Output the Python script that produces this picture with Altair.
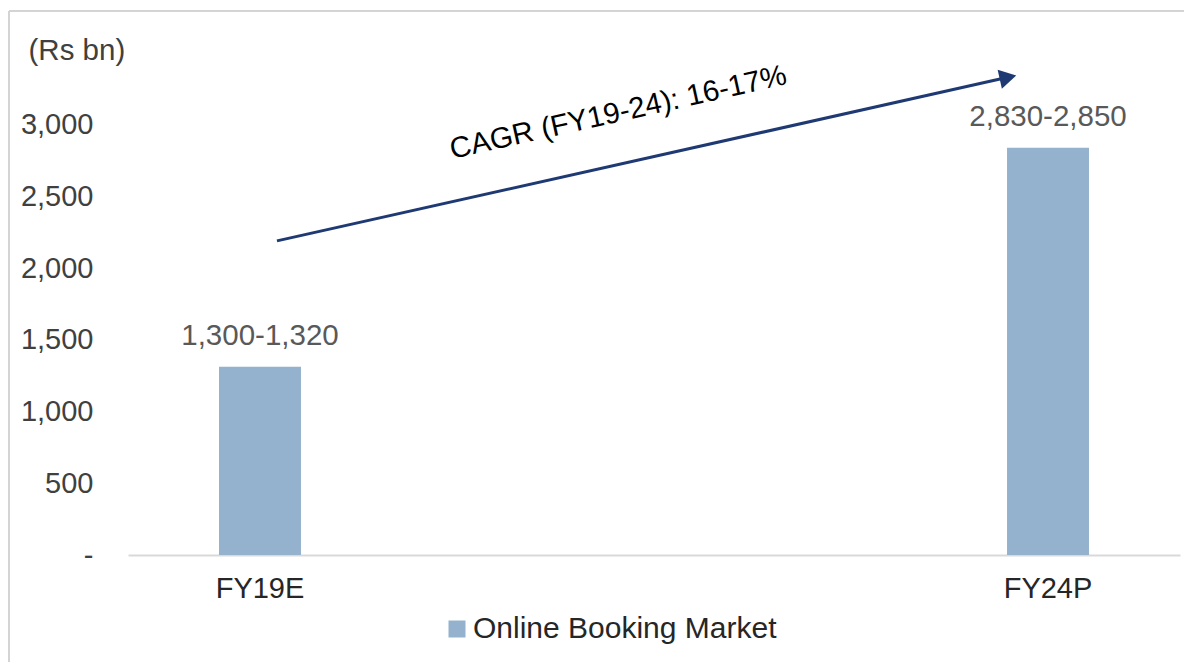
import altair as alt
import pandas as pd

# ---- data ----
categories = ["FY19E", "FY24P"]
values = [1312, 2840]
value_labels = ["1,300-1,320", "2,830-2,850"]
series_name = "Online Booking Market"
y_ticks = [0, 500, 1000, 1500, 2000, 2500, 3000]

# CAGR arrow annotation (x as fraction of plot width, y in Rs bn)
arrow_x = [0.1416, 0.830]
arrow_y = [2190, 3320]
head_x = [0.8365]
head_y = [3330]
cagr_text = ["CAGR (FY19-24): 16-17%"]
cagr_x = [0.466]
cagr_y = [3084]

FONT = "Liberation Sans"
BAR = "#94B2CD"
NAVY = "#1F3A73"

bars_df = pd.DataFrame({"cat": categories, "val": values, "lab": value_labels,
                        "series": [series_name] * len(categories)})
arrow_df = pd.DataFrame({"ax": arrow_x, "ay": arrow_y})
head_df = pd.DataFrame({"ax": head_x, "ay": head_y})
cagr_df = pd.DataFrame({"ax": cagr_x, "ay": cagr_y, "t": cagr_text})

yscale = alt.Scale(domain=[0, 3500], nice=False)
xband = alt.Scale(paddingInner=0.896, paddingOuter=0.1155)

bars = alt.Chart(bars_df).mark_bar(color=BAR).encode(
    x=alt.X("cat:N", scale=xband, sort=categories,
            axis=alt.Axis(title=None, labelAngle=0, ticks=False, labelPadding=19,
                          labelFontSize=29, labelFont=FONT, labelColor="#262626",
                          domainColor="#D9D9D9", domainWidth=2)),
    y=alt.Y("val:Q", scale=yscale,
            axis=alt.Axis(values=y_ticks, grid=False, ticks=False, domain=False,
                          labelExpr="datum.value == 0 ? '-\u00a0\u00a0' : format(datum.value, ',')",
                          labelPadding=35, labelFontSize=29, labelFont=FONT,
                          labelColor="#404040",
                          title="(Rs bn)", titleAngle=0, titleAlign="left",
                          titleBaseline="middle", titleX=-100, titleY=-3,
                          titleFontSize=29.5, titleFont=FONT, titleFontWeight="normal",
                          titleColor="#404040")),
    color=alt.Color("series:N", scale=alt.Scale(range=[BAR]),
                    legend=alt.Legend(title=None, orient="none", legendX=314, legendY=561,
                                      symbolType="square", symbolSize=289,
                                      symbolStrokeWidth=0, labelFontSize=30,
                                      labelFont=FONT, labelColor="#262626",
                                      labelOffset=1, labelLimit=0)),
)

labels = alt.Chart(bars_df).mark_text(font=FONT, fontSize=29.5, color="#595959",
                                      baseline="middle", dy=-31).encode(
    x=alt.X("cat:N", scale=xband, sort=categories),
    y=alt.Y("val:Q", scale=yscale),
    text="lab:N",
)

bar_layer = alt.layer(bars, labels)

ax_scale = alt.Scale(domain=[0, 1], nice=False, zero=False)

arrow = alt.Chart(arrow_df).mark_line(color=NAVY, strokeWidth=3).encode(
    x=alt.X("ax:Q", scale=ax_scale, axis=None),
    y=alt.Y("ay:Q", scale=yscale),
)
head = alt.Chart(head_df).mark_point(shape="triangle-right", filled=True, color=NAVY,
                                     opacity=1, size=380, angle=347.4).encode(
    x=alt.X("ax:Q", scale=ax_scale, axis=None),
    y=alt.Y("ay:Q", scale=yscale),
)
cagr = alt.Chart(cagr_df).mark_text(font=FONT, fontSize=29.5, color="#000000",
                                    angle=347.4, baseline="middle").encode(
    x=alt.X("ax:Q", scale=ax_scale, axis=None),
    y=alt.Y("ay:Q", scale=yscale),
    text="t:N",
)
annot_layer = alt.layer(arrow, head, cagr)

frame_df = pd.DataFrame({"k": [0]})
frame_top = alt.Chart(frame_df).mark_rule(color="#D4D4D4", strokeWidth=2).encode(
    x=alt.value(-119), x2=alt.value(1070), y=alt.value(-42))
frame_left = alt.Chart(frame_df).mark_rule(color="#D4D4D4", strokeWidth=2).encode(
    x=alt.value(-119), y=alt.value(-42), y2=alt.value(615))

chart = alt.layer(bar_layer, annot_layer, frame_top, frame_left).resolve_scale(
    x="independent"
).properties(
    width=1052, height=502,
    padding={"left": 120, "top": 45, "right": 4, "bottom": 107},
    autosize=alt.AutoSizeParams(type="none"),
    background="white",
).configure_view(stroke=None)

chart.save("out.html", embed_options={"renderer": "svg", "actions": False})
